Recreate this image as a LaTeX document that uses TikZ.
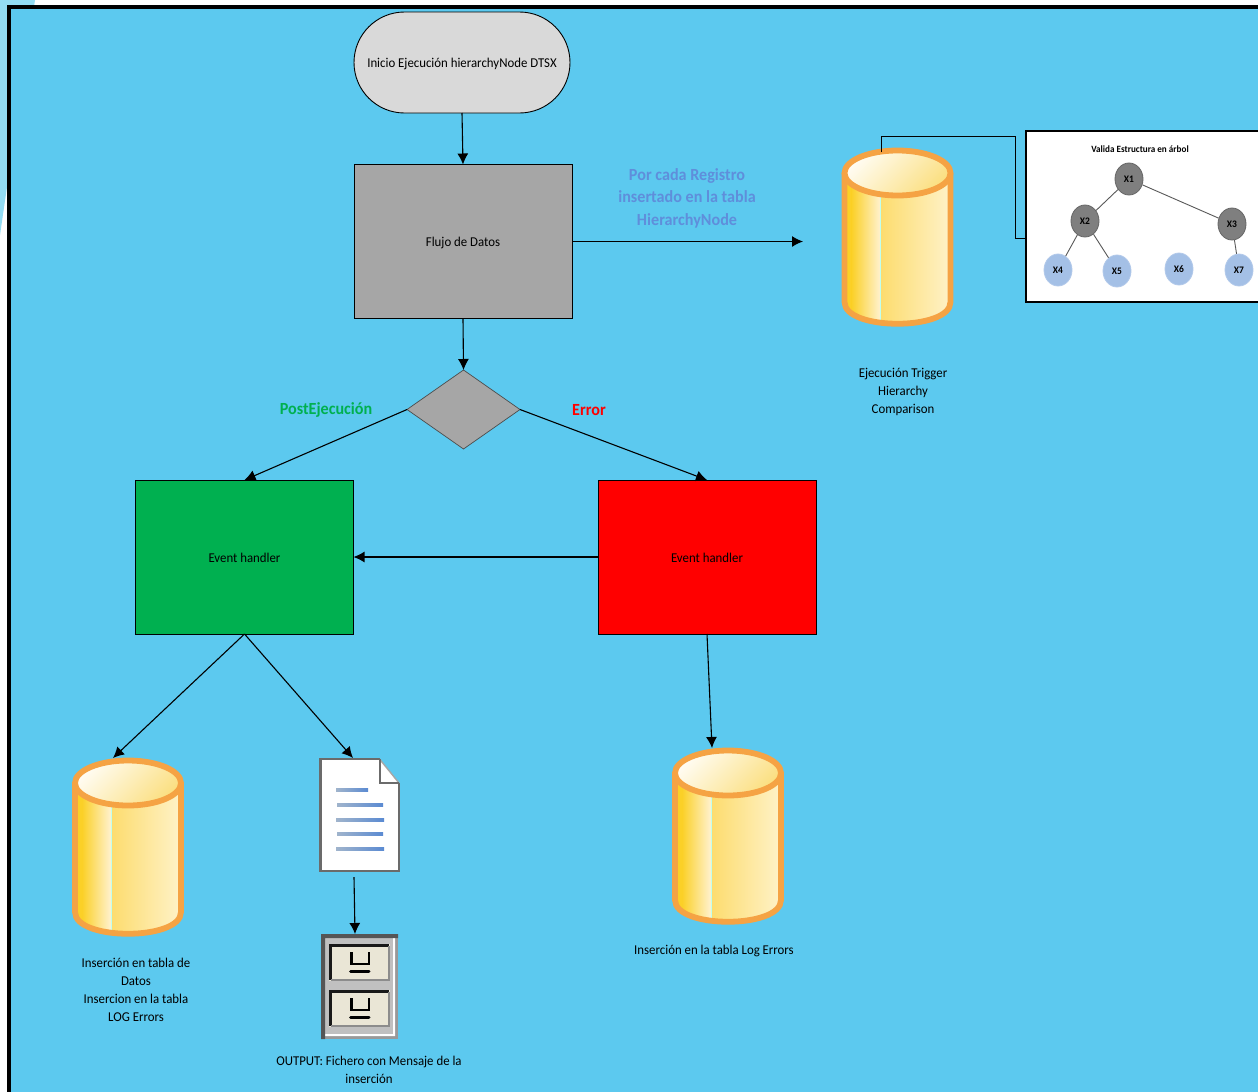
\documentclass[tikz,border=0pt]{standalone}
\usepackage{fontspec}
\setmainfont{Carlito}[FakeStretch=0.95]
\usetikzlibrary{arrows.meta,shapes.geometric,shapes.misc}
\definecolor{bgblue}{HTML}{5CC9EF}
\definecolor{lightband}{HTML}{93DCF3}
\definecolor{flowgray}{HTML}{A6A6A6}
\definecolor{startgray}{HTML}{D9D9D9}
\definecolor{okgreen}{HTML}{00B050}
\definecolor{cylorange}{HTML}{F5A344}
\definecolor{notecolor}{HTML}{5F8EDB}
\definecolor{treegray}{HTML}{7F7F7F}
\definecolor{treeblue}{HTML}{A4C0E6}
\definecolor{cabdark}{HTML}{555555}
\definecolor{cabgray}{HTML}{C0C0C0}
\definecolor{drawer}{HTML}{EAE6D6}
\definecolor{cylA}{HTML}{FBD027}
\definecolor{cylB}{HTML}{FFF2D0}
\definecolor{cylC}{HTML}{FDDC6E}
\definecolor{cylD}{HTML}{FEF2C8}
\definecolor{cylE}{HTML}{FFFCF2}
\definecolor{cylF}{HTML}{FBDF80}
\definecolor{barA}{HTML}{A0B4CC}
\definecolor{barB}{HTML}{5A8AD2}
\tikzset{
  box/.style={draw=black,line width=.9pt,minimum width=218pt,minimum height=154pt,inner sep=0pt,outer sep=0pt,font=\fontsize{13.5}{18}\selectfont,text height=13pt,text depth=3pt},
  arrow/.style={draw=black,line width=1.1pt,-{Latex[length=11pt,width=11pt]}},
  caption/.style={align=center,inner sep=0pt,font=\fontsize{13.5}{18}\selectfont},
  note/.style={align=center,inner sep=0pt,font=\fontsize{17}{22.5}\selectfont\bfseries},
  treeedge/.style={draw=black!65,line width=.9pt},
  treenode/.style={ellipse,minimum width=28pt,minimum height=32pt,inner sep=0pt,line width=.8pt,font=\fontsize{10}{10}\selectfont\bfseries},
  treedark/.style={treenode,draw=black!60,fill=treegray},
  treelight/.style={treenode,draw=treeblue!85!white,fill=treeblue},
  anchorbox/.style={inner sep=0pt,outer sep=0pt,minimum width=0pt,minimum height=0pt}
}
\newcommand{\dbcyl}[4]{% name, centre x, top y, total height
  \node[anchorbox,minimum width=112pt,minimum height=#4pt,anchor=north] (#1) at (#2,#3) {};
  \begin{scope}
    \clip (#2-53,#3+25) -- (#2-53,#3+#4-25) .. controls (#2-53,#3+#4+4) and (#2+53,#3+#4+4) .. (#2+53,#3+#4-25) -- (#2+53,#3+25) -- cycle;
    \fill[cylA] (#2-53,#3) rectangle (#2-46,#3+#4);
    \path[left color=cylA,right color=cylB] (#2-46,#3) rectangle (#2-17,#3+#4);
    \path[left color=cylC,right color=cylD] (#2-17,#3) rectangle (#2+53,#3+#4);
    \draw[line width=.8pt,green!25!cyan!25!white] (#2-17,#3) -- (#2-17,#3+#4);
  \end{scope}
  \draw[cylorange,line width=5.8pt] (#2-53,#3+25) -- (#2-53,#3+#4-25) .. controls (#2-53,#3+#4+4) and (#2+53,#3+#4+4) .. (#2+53,#3+#4-25) -- (#2+53,#3+25);
  \path[shade,top color=cylE,bottom color=cylF,shading angle=45] (#2,#3+25) ellipse [x radius=53,y radius=22.5];
  \draw[cylorange,line width=5.8pt] (#2,#3+25) ellipse [x radius=53,y radius=22.5];
}
\newcommand{\docbar}[4]{% x1, x2, y, thickness
  \path[left color=barA,right color=barB] (#1,#3-#4/2) rectangle (#2,#3+#4/2);
}
\newcommand{\cabdrawer}[1]{% top y of drawer
  \fill[drawer] (329,#1) rectangle (390,#1+37);
  \draw[black!90,line width=3pt] (330.5,#1+36) -- (330.5,#1+1.5) -- (389,#1+1.5);
  \draw[black!45,line width=1.6pt] (331,#1+36) -- (389,#1+36) -- (389,#1+2);
  \draw[black,line width=2.6pt] (351.5,#1+8) -- (351.5,#1+20) -- (369,#1+20) -- (369,#1+8);
  \draw[black,line width=3pt,line cap=round] (350.5,#1+27.5) -- (369,#1+27.5);
}
\begin{document}
\begin{tikzpicture}[x=1pt,y=-1pt]
\useasboundingbox (0,0) rectangle (1258,1092);
\fill[white] (0,0) rectangle (1258,1092);
\fill[lightband] (0,0) -- (35,0) -- (7,187) -- (0,235) -- cycle;
\fill[bgblue] (9,7) rectangle (1258,1092);
\draw[black,line width=4pt] (9,1092) -- (9,7) -- (1258,7);

% main flow
\node[rounded rectangle,draw=black,line width=.9pt,fill=startgray,minimum width=216pt,minimum height=101pt,inner sep=0pt,outer sep=0pt,font=\fontsize{13.5}{18}\selectfont,text height=13pt,text depth=3pt] (start) at (462,62.5) {Inicio Ejecución hierarchyNode DTSX};
\node[box,fill=flowgray] (flow) at (463,241.5) {Flujo de Datos};
\node[diamond,aspect=1.43,draw=black!70,line width=.7pt,fill=flowgray,minimum width=113pt,minimum height=79pt,inner sep=0pt,outer sep=0pt] (choice) at (463.5,409.5) {};
\node[box,fill=okgreen] (okbox) at (244.5,557) {Event handler};
\node[box,fill=red] (errbox) at (707,557) {Event handler};

% cylinders
\dbcyl{dbtrigger}{897.5}{148}{179}
\dbcyl{dbdata}{128}{758}{179}
\dbcyl{dblog}{728}{748}{177}

% document
\node[anchorbox,minimum width=80pt,minimum height=113pt] (doc) at (360,815.5) {};
\fill[white] (320.5,759) -- (379.5,759) -- (399,783) -- (399,871) -- (320.5,871) -- cycle;
\docbar{336}{368}{790}{3.6}
\docbar{337}{383}{805}{2.4}
\docbar{336}{384}{819.5}{3}
\docbar{337}{383}{834}{2.4}
\docbar{336}{384}{849}{3.6}
\draw[black!58,line width=2.4pt,line join=miter] (379.5,759) -- (320.5,759) -- (320.5,871) -- (399,871) -- (399,783);
\draw[black!35,line width=1.4pt] (379.5,759) -- (399,783);
\draw[black!58,line width=2pt] (379.5,759) -- (379.5,783) -- (399,783);

% filing cabinet
\node[anchorbox,minimum width=77pt,minimum height=105pt] (cabinet) at (359.5,986.5) {};
\fill[black!40] (321,934) rectangle (398,1039);
\fill[cabgray] (325,938) rectangle (393,1034);
\fill[white] (393,938) rectangle (395,1036) (325,1034) rectangle (395,1036);
\fill[cabdark] (321,934) rectangle (398,938) (321,934) rectangle (325,1039);
\cabdrawer{944}
\cabdrawer{990}

% tree panel
\node[anchorbox,minimum width=233pt,minimum height=172pt,anchor=north west] (panel) at (1026,130.5) {};
\fill[white] (1026,131) rectangle (1258,302);
\draw[black,line width=1.1pt] (1258,131) -- (1026,131) -- (1026,302) -- (1258,302);
\node[inner sep=0pt,font=\fontsize{9.6}{11}\selectfont\bfseries] (treetitle) at (1140,149) {Valida Estructura en árbol};
\node[treedark] (x1) at (1129,179) {X1};
\node[treedark] (x2) at (1085,221) {X2};
\node[treedark] (x3) at (1232,224) {X3};
\node[treelight] (x4) at (1058,270) {X4};
\node[treelight] (x5) at (1117,271) {X5};
\node[treelight] (x6) at (1179,269) {X6};
\node[treelight] (x7) at (1239,270) {X7};
\draw[treeedge] (x1) -- (x2);
\draw[treeedge] (x1) -- (x3);
\draw[treeedge] (x2) -- (x4);
\draw[treeedge] (x2) -- (x5);
\draw[treeedge] (x3) -- (x7);

% free ends
\coordinate (flowend) at (803,241.5);
\coordinate (trigtop) at (881,152);
\coordinate (paneljoin) at (1026,238);
\coordinate (datatop) at (113,758);
\coordinate (doctop) at (353,758);
\coordinate (docfoot) at (354,877);
\coordinate (cabtop) at (355,934);
\coordinate (logtop) at (712,748);

% connectors
\draw[arrow] (start.south) -- (flow.north);
\draw[arrow] (flow.east) -- (flowend);
\draw[arrow] (flow.south) -- (choice.north);
\draw[arrow] (choice.west) -- (okbox.north);
\draw[arrow] (choice.east) -- (errbox.north);
\draw[arrow] (errbox.west) -- (okbox.east);
\draw[arrow] (okbox.south) -- (datatop);
\draw[arrow] (okbox.south) -- (doctop);
\draw[arrow] (docfoot) -- (cabtop);
\draw[arrow] (errbox.south) -- (logtop);
\draw[black,line width=1pt] (trigtop) -- (881,136) -- (1015,136) -- (1015,238) -- (paneljoin);

% labels
\node[note,text=notecolor] (perrow) at (687,198) {Por cada Registro\\insertado en la tabla\\HierarchyNode};
\node[note,text=okgreen] (postlabel) at (326,410) {PostEjecución};
\node[note,text=red] (errlabel) at (589,410) {Error};
\node[caption] (capTrigger) at (903,391.5) {Ejecución Trigger\\Hierarchy\\Comparison};
\node[caption] (capData) at (136,990) {Inserción en tabla de\\Datos\\Insercion en la tabla\\LOG Errors};
\node[caption] (capLog) at (714,950.5) {Inserción en la tabla Log Errors};
\node[caption] (capOut) at (369,1070) {OUTPUT: Fichero con Mensaje de la\\inserción};
\end{tikzpicture}
\end{document}
